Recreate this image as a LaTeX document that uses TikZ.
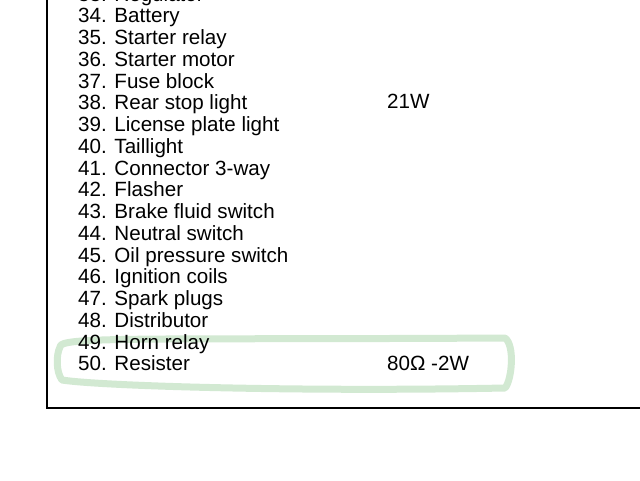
\documentclass[tikz,border=0pt]{standalone}
\usepackage{fontspec}
\setmainfont{Liberation Sans}
\usetikzlibrary{positioning}
\begin{document}
\begin{tikzpicture}[x=1pt,y=-1pt]
  \tikzstyle{item} = [anchor=base west, inner sep=0pt, font=\fontsize{20.6}{22}\selectfont]
  \useasboundingbox (0,0) rectangle (640,480);
  \draw [line width=1.2pt] (47,0) -- (47,408) -- (640,408);
  % highlight round the last entry
  \draw [green!50!black!25!white, line width=7pt, line cap=round, line join=round, opacity=0.7]
    (60,347) .. controls (58,336) and (150,340) .. (505,338)
    .. controls (515,345) and (512,380) .. (505,388)
    .. controls (300,392) and (100,386) .. (62,380)
    .. controls (56,372) and (56,355) .. (60,347);
  \foreach \n/\t [count=\i from 0] in {33/Regulator,34/Battery,35/Starter relay,36/Starter motor,
      37/Fuse block,38/Rear stop light,39/License plate light,40/Taillight,
      41/Connector 3-way,42/Flasher,43/Brake fluid switch,44/Neutral switch,
      45/Oil pressure switch,46/Ignition coils,47/Spark plugs,48/Distributor,
      49/Horn relay,50/Resister}
    \node [item] (L\n) at (78,{1+21.75*\i}) {\n. \t};
  \node [item] (W38) at (387,108) {21W};
  \node [item] (W50) at (387,370) {80Ω -2W};
\end{tikzpicture}
\end{document}
